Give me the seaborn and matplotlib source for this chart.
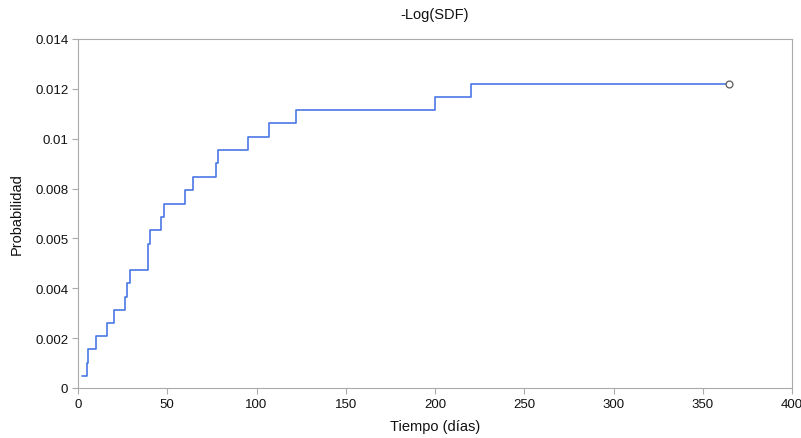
import matplotlib
matplotlib.use("Agg")
import matplotlib.pyplot as plt
import seaborn as sns
import pandas as pd

# Data
tiempo = [2, 5, 5.8, 10, 16.4, 20, 26.5, 27.3, 29, 39, 40.3, 46.4, 47.9, 60, 64.3,
          77.3, 78.3, 95, 107, 122, 200, 220, 364.5]
prob = [0.00050, 0.00100, 0.00156, 0.00209, 0.00262, 0.00313, 0.00365, 0.00420,
        0.00473, 0.00578, 0.00633, 0.00686, 0.00740, 0.00794, 0.00848, 0.00901,
        0.00955, 0.01008, 0.01062, 0.01115, 0.01169, 0.01221, 0.01221]
censor_t = [364.5]
censor_p = [0.01221]

xticks = [0, 50, 100, 150, 200, 250, 300, 350, 400]
yticks = [0, 0.002, 0.004, 0.006, 0.008, 0.010, 0.012, 0.014]
ytick_labels = ["0", "0.002", "0.004", "0.005", "0.008", "0.01", "0.012", "0.014"]

sns.set_theme(style="white")
plt.rcParams['font.family'] = ['Liberation Sans', 'DejaVu Sans']

fig = plt.figure(figsize=(8.01, 4.39), dpi=100)
ax = fig.add_axes([78/801, 1-389/439, (792-78)/801, (389-40)/439])

df = pd.DataFrame({"t": tiempo, "p": prob})
sns.lineplot(data=df, x="t", y="p", ax=ax, drawstyle="steps-post",
             estimator=None, color="#4a78e6", linewidth=1.2)
sns.scatterplot(x=censor_t, y=censor_p, ax=ax, marker="o", s=24,
                facecolor="white", edgecolor="#666666", linewidth=1.0, zorder=5)

ax.set_xlim(0, 400)
ax.set_ylim(0, 0.014)
ax.set_xticks(xticks)
ax.set_xticklabels([str(v) for v in xticks])
ax.set_yticks(yticks)
ax.set_yticklabels(ytick_labels)
ax.tick_params(axis="both", which="major", direction="out", length=4, width=0.8,
               color="#aaaaaa", labelsize=9.5, labelcolor="#111111", pad=3)
ax.tick_params(left=True, bottom=True)
for s in ax.spines.values():
    s.set_visible(True)
    s.set_color("#aaaaaa")
    s.set_linewidth(0.8)

ax.set_title("-Log(SDF)", fontsize=10.5, color="#111111", pad=15)
ax.set_xlabel("Tiempo (días)", fontsize=10.5, color="#111111", labelpad=7)
ax.set_ylabel("Probabilidad", fontsize=10.5, color="#111111", labelpad=8)
ax.grid(False)

fig.savefig("out.png", dpi=100)
